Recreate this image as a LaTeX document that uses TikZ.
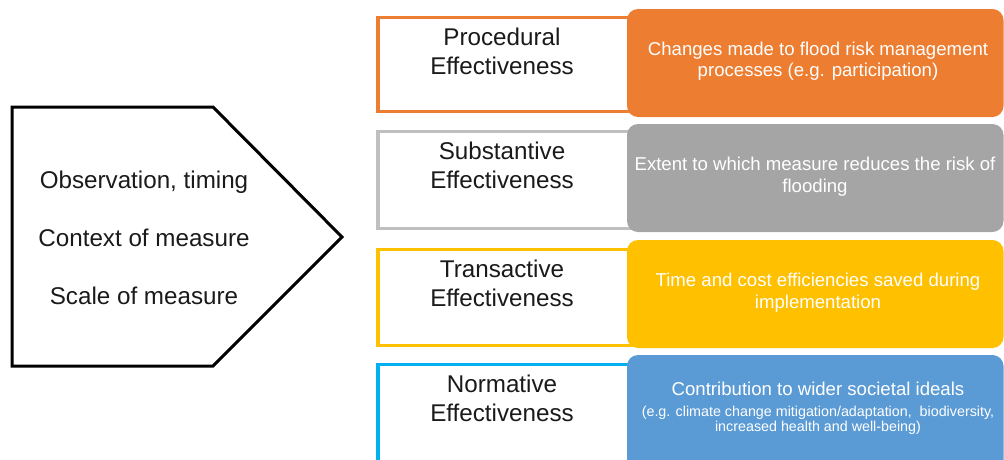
\documentclass[tikz,border=0pt]{standalone}
\usepackage{fontspec}
\setmainfont{Liberation Sans}
\definecolor{cOrange}{HTML}{ED7D31}
\definecolor{cGray}{HTML}{A5A5A5}
\definecolor{cGrayB}{HTML}{BFBFBF}
\definecolor{cYellow}{HTML}{FFC000}
\definecolor{cBlue}{HTML}{5B9BD5}
\definecolor{cCyan}{HTML}{00B0F0}
\definecolor{cText}{HTML}{1A1A1A}
\begin{document}
\begin{tikzpicture}[x=1pt,y=-1pt,
  framebox/.style={draw, line width=3.4pt, fill=white},
  fillbox/.style={rounded corners=11pt},
  biglabel/.style={align=center, text=cText, inner sep=0pt, font=\fontsize{24.2}{29}\selectfont},
  boxtext/.style={align=center, text=white, inner sep=0pt, font=\fontsize{18.6}{21.5}\selectfont},
  smalltext/.style={align=center, text=white, inner sep=0pt, font=\fontsize{14.3}{15.5}\selectfont}]
\useasboundingbox (0,0) rectangle (1004,459);
\begin{scope}
\clip (0,0) rectangle (1004,459);
% left pentagon
\draw[line width=3pt, line join=miter] (12,107) -- (213,107) -- (342,237) -- (213,366) -- (12,366) -- cycle;
\node[biglabel] (obs) at (144,182) {Observation, timing};
\node[biglabel] (ctx) at (144,238) {Context of measure};
\node[biglabel] (scl) at (144,296) {Scale of measure};
% white framed boxes
\path[framebox, draw=cOrange] (378,17.7) rectangle (640,111.3);
\path[framebox, draw=cGrayB] (378,131.7) rectangle (640,228.3);
\path[framebox, draw=cYellow] (378,249.7) rectangle (640,345.3);
\path[framebox, draw=cCyan] (378,364.7) rectangle (640,490);
% coloured boxes
\fill[fillbox, cOrange] (627,9) rectangle (1003.5,117);
\fill[fillbox, cGray] (627,124) rectangle (1003.5,232);
\fill[fillbox, cYellow] (627,240) rectangle (1003.5,348);
\fill[fillbox, cBlue] (627,355) rectangle (1003.5,475);
% labels
\node[biglabel] (proc) at (502,51) {Procedural\\Effectiveness};
\node[biglabel] (subs) at (502,165.5) {Substantive\\Effectiveness};
\node[biglabel] (trans) at (502,283.5) {Transactive\\Effectiveness};
\node[biglabel] (norm) at (502,398) {Normative\\Effectiveness};
\node[boxtext] (procd) at (818,61) {Changes made to flood risk management\\processes (e.g. participation)};
\node[boxtext] (subsd) at (815,176.5) {Extent to which measure reduces the risk of\\flooding};
\node[boxtext] (transd) at (818,292.5) {Time and cost efficiencies saved during\\implementation};
\node[boxtext] (normd) at (818,389) {Contribution to wider societal ideals};
\node[smalltext] (normd2) at (818,420.5) {(e.g. climate change mitigation/adaptation, \ biodiversity,\\increased health and well-being)};
\end{scope}
\end{tikzpicture}
\end{document}
